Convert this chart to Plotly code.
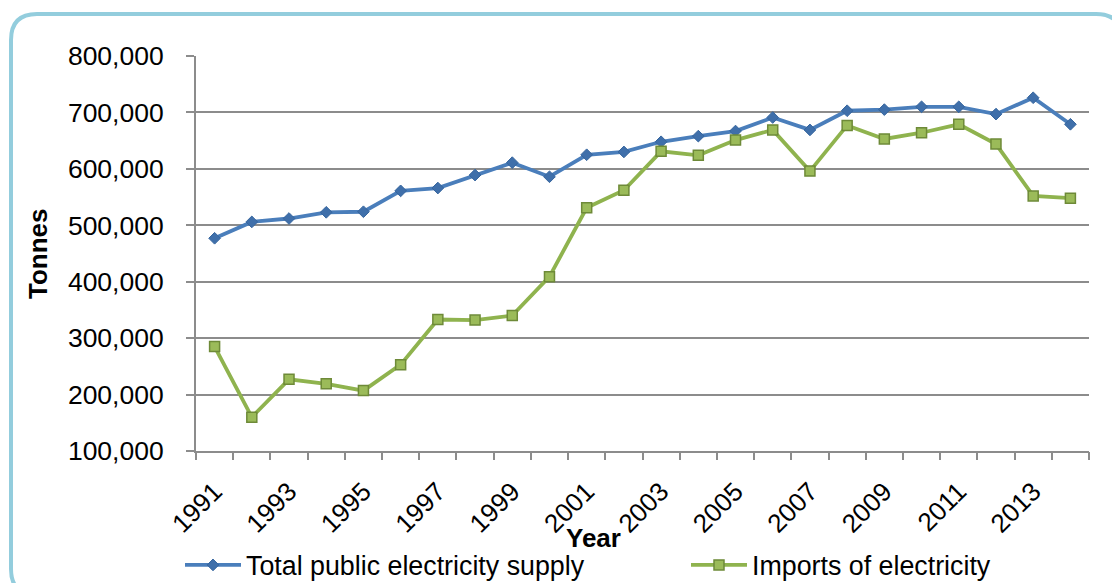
import plotly.graph_objects as go

years = list(range(1991, 2015))
total_supply = [477000, 506000, 512000, 523000, 524000, 561000, 566000, 589000, 611000, 586000,
                625000, 630000, 648000, 658000, 667000, 691000, 669000, 703000, 705000, 710000,
                710000, 697000, 726000, 679000]
imports = [285000, 160000, 227000, 219000, 207000, 253000, 333000, 332000, 340000, 409000,
           531000, 562000, 631000, 624000, 651000, 669000, 596000, 677000, 653000, 664000,
           679000, 644000, 552000, 548000]
label_years = years[::2]
y_ticks = [100000, 200000, 300000, 400000, 500000, 600000, 700000, 800000]

W, H = 1112, 583
L, R, T, B = 196, 23, 56, 132
PW, PH = W - L - R, H - T - B
FONT = "Arial, Liberation Sans, sans-serif"

def fx(px):
    return (px - L) / PW

def fy(py):
    return (H - B - py) / PH

fig = go.Figure()
fig.add_trace(go.Scatter(
    x=years, y=total_supply, name="Total public electricity supply",
    mode="lines+markers",
    line=dict(color="#4A7EBB", width=3.8),
    marker=dict(symbol="diamond", size=9, color="#3F6FAA", line=dict(color="#35659E", width=1)),
    xaxis="x", yaxis="y",
))
fig.add_trace(go.Scatter(
    x=years, y=imports, name="Imports of electricity",
    mode="lines+markers",
    line=dict(color="#8FB34E", width=3.8),
    marker=dict(symbol="square", size=10, color="#9BBB59", line=dict(color="#6E8A38", width=1.5)),
    xaxis="x", yaxis="y",
))

# rounded border
l_, t_, r_, b_, rad = 11, 14, 1122, 595, 26
path = (f"M {fx(l_ + rad)},{fy(t_)} L {fx(r_ - rad)},{fy(t_)} "
        f"Q {fx(r_)},{fy(t_)} {fx(r_)},{fy(t_ + rad)} "
        f"L {fx(r_)},{fy(b_ - rad)} Q {fx(r_)},{fy(b_)} {fx(r_ - rad)},{fy(b_)} "
        f"L {fx(l_ + rad)},{fy(b_)} Q {fx(l_)},{fy(b_)} {fx(l_)},{fy(b_ - rad)} "
        f"L {fx(l_)},{fy(t_ + rad)} Q {fx(l_)},{fy(t_)} {fx(l_ + rad)},{fy(t_)} Z")

fig.update_layout(
    width=W, height=H,
    margin=dict(l=L, r=R, t=T, b=B, autoexpand=False),
    paper_bgcolor="white", plot_bgcolor="white",
    font=dict(family=FONT, size=26, color="black"),
    shapes=[dict(type="path", path=path, xref="paper", yref="paper",
                 line=dict(color="#93CDDD", width=4), layer="below")],
    xaxis=dict(
        range=[1990.5, 2014.5], tickmode="array", tickvals=label_years,
        ticktext=[str(y) for y in label_years], tickangle=-45, automargin=False,
        showgrid=False, zeroline=False, showline=True, linecolor="#8C8C8C", linewidth=2,
        ticks="", tickfont=dict(size=26), ticklabelstandoff=13,
    ),
    xaxis2=dict(
        range=[1990.5, 2014.5], overlaying="x", tickmode="array", automargin=False,
        tickvals=[y - 0.5 for y in years] + [2014.5], showticklabels=False,
        ticks="outside", ticklen=8, tickwidth=2, tickcolor="#8C8C8C",
        showgrid=False, zeroline=False, showline=False, side="bottom", anchor="y",
    ),
    yaxis=dict(
        range=[100000, 800000], tickmode="array", tickvals=y_ticks, automargin=False,
        ticktext=[f"{v:,}" for v in y_ticks],
        showgrid=True, gridcolor="#8C8C8C", gridwidth=2,
        zeroline=False, showline=True, linecolor="#8C8C8C", linewidth=2,
        ticks="outside", ticklen=8, tickwidth=2, tickcolor="#8C8C8C",
        ticklabelstandoff=17, tickfont=dict(size=26.5),
    ),
    legend=dict(
        orientation="h", x=fx(180), xanchor="left", y=fy(565), yanchor="middle",
        font=dict(size=26.8), entrywidth=435, entrywidthmode="pixels",
        bgcolor="rgba(0,0,0,0)", itemwidth=56,
    ),
    annotations=[
        dict(text="<b>Year</b>", x=fx(593), y=fy(538), xref="paper", yref="paper",
             showarrow=False, font=dict(size=26), xanchor="center", yanchor="middle"),
        dict(text="<b>Tonnes</b>", x=fx(38), y=fy(254), xref="paper", yref="paper",
             showarrow=False, font=dict(size=26), textangle=-90, xanchor="center", yanchor="middle"),
    ],
    showlegend=True,
)
fig.add_trace(go.Scatter(x=[1991], y=[None], xaxis="x2", yaxis="y", showlegend=False, hoverinfo="skip"))

fig.write_html("out.html", config={"displayModeBar": False},
               post_script="document.body.style.margin='0';document.body.style.overflow='hidden';")
